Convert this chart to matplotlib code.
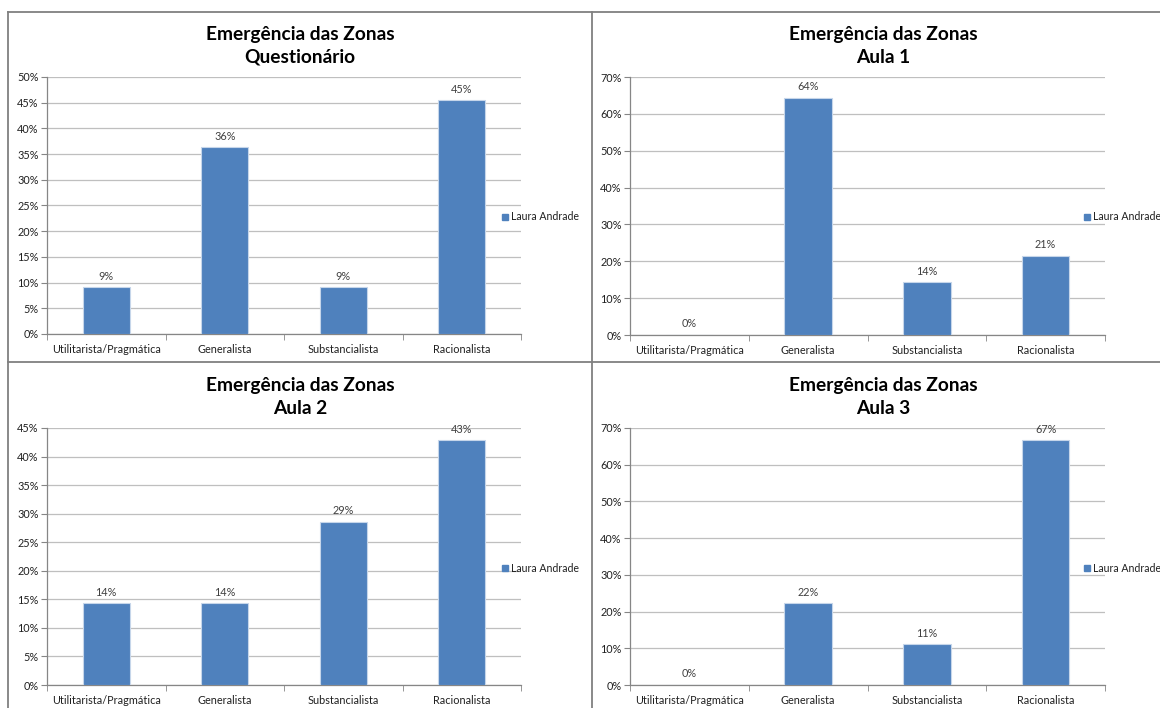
import matplotlib
matplotlib.use("Agg")
import matplotlib.pyplot as plt
from matplotlib.lines import Line2D

plt.rcParams['font.family'] = ['Lato', 'DejaVu Sans']

categories = ["Utilitarista/Pragmática", "Generalista", "Substancialista", "Racionalista"]
series_name = "Laura Andrade"

questionario = [9.09, 36.36, 9.09, 45.45]
aula1 = [0.0, 64.29, 14.29, 21.43]
aula2 = [14.29, 14.29, 28.57, 42.86]
aula3 = [0.0, 22.22, 11.11, 66.67]

titles = ["Emergência das Zonas\nQuestionário", "Emergência das Zonas\nAula 1",
          "Emergência das Zonas\nAula 2", "Emergência das Zonas\nAula 3"]
y_max = [50, 70, 45, 70]
y_step = [5, 10, 5, 10]

W, H = 1160, 708
BLUE = "#4F81BD"
GRID = "#BFBFBF"
TXT = "#404040"

fig = plt.figure(figsize=(W / 100, H / 100), dpi=100)
fig.patch.set_facecolor("white")


def fx(x):
    return x / W


def fy(y):
    return 1 - y / H


# panel frames
frame = dict(color="#808080", lw=1.3, transform=fig.transFigure)
fig.add_artist(Line2D([fx(8), fx(1160)], [fy(12), fy(12)], **frame))
fig.add_artist(Line2D([fx(8), fx(1160)], [fy(362), fy(362)], **frame))
fig.add_artist(Line2D([fx(8), fx(8)], [fy(12), fy(708)], **frame))
fig.add_artist(Line2D([fx(591.5), fx(591.5)], [fy(12), fy(708)], **frame))

# (x0, x1, ytop, ybot, title center x, title y, legend x, legend y)
layout = [
    (47, 521, 77, 334, 300, 46, 503, 217),
    (630, 1105, 77, 335, 883, 46, 1085, 217),
    (47, 521, 428, 685, 300, 397, 503, 568),
    (630, 1105, 428, 685, 883, 397, 1085, 568),
]
datasets = [questionario, aula1, aula2, aula3]

for i, vals in enumerate(datasets):
    x0, x1, yt, yb, tx, ty, lx, ly = layout[i]
    ax = fig.add_axes([fx(x0), fy(yb), fx(x1 - x0), (yb - yt) / H])
    pos = list(range(len(categories)))
    ax.bar(pos, vals, width=0.4, color=BLUE, edgecolor="#C6D6EA", linewidth=0.8, zorder=3)
    for p, v in zip(pos, vals):
        ax.annotate(f"{round(v)}%", (p, v), xytext=(0, 4), textcoords="offset points",
                    ha="center", va="bottom", fontsize=7.8, color=TXT)
    ax.set_xlim(-0.5, len(categories) - 0.5)
    ax.set_ylim(0, y_max[i])
    ticks = list(range(0, y_max[i] + 1, y_step[i]))
    ax.set_yticks(ticks)
    ax.set_yticklabels([f"{t}%" for t in ticks], fontsize=7.8, color="#202020")
    ax.set_xticks(pos)
    ax.set_xticklabels(categories, fontsize=7.8, color="#202020")
    ax.set_xticks([p - 0.5 for p in range(len(categories) + 1)], minor=True)
    ax.tick_params(axis="x", which="major", length=0, pad=7)
    ax.tick_params(axis="x", which="minor", length=4, color="#868686", direction="out")
    ax.tick_params(axis="y", length=4, color="#868686", direction="out", pad=2)
    ax.yaxis.grid(True, color=GRID, lw=0.9, zorder=0)
    ax.set_axisbelow(True)
    for s in ["top", "right"]:
        ax.spines[s].set_visible(False)
    for s in ["left", "bottom"]:
        ax.spines[s].set_color("#868686")
        ax.spines[s].set_linewidth(0.9)
    ax.set_facecolor("none")

    fig.text(fx(tx), fy(ty), titles[i], ha="center", va="center", fontsize=13.8,
             fontweight="bold", color="black", linespacing=1.4)
    # legend
    fig.add_artist(Line2D([fx(lx + 2)], [fy(ly)], marker="s", markersize=5, color=BLUE,
                          lw=0, transform=fig.transFigure))
    fig.text(fx(lx + 8), fy(ly), series_name, ha="left", va="center", fontsize=7.6, color="#202020")

fig.savefig("out.png", dpi=100)
